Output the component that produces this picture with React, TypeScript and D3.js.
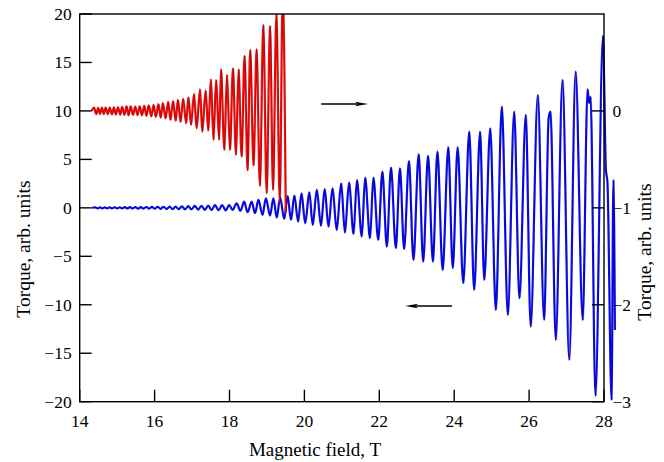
import React from "react";
import * as d3 from "d3";

// ---- Data ----
// Blue curve: torque (left axis, arb. units) vs magnetic field (T), extrema
const blueField = [
  14.33, 14.41, 14.48, 14.54, 14.60, 14.67, 14.73, 14.80, 14.86, 14.93, 15.00, 15.07, 15.13, 15.20, 15.27, 15.34,
  15.41, 15.48, 15.56, 15.63, 15.70, 15.78, 15.85, 15.93, 16.00, 16.08, 16.16, 16.24, 16.32, 16.40, 16.48, 16.56,
  16.64, 16.73, 16.81, 16.90, 16.98, 17.07, 17.16, 17.25, 17.34, 17.43, 17.52, 17.61, 17.71, 17.80, 17.90,
  17.99, 18.08, 18.19, 18.29, 18.39, 18.48, 18.59, 18.68, 18.77, 18.88, 18.97, 19.08, 19.17, 19.26, 19.35, 19.46,
  19.55, 19.64, 19.73, 19.83, 19.92, 20.02, 20.13, 20.22, 20.33, 20.44, 20.54, 20.64, 20.75, 20.86,
  20.98, 21.08, 21.19, 21.31, 21.40, 21.53, 21.62, 21.75, 21.84, 21.97, 22.08, 22.20, 22.31, 22.44, 22.55, 22.66,
  22.79, 22.91, 23.05, 23.17, 23.30, 23.43,
  23.55, 23.69, 23.84, 23.96, 24.09, 24.24, 24.40, 24.53, 24.69, 24.80, 24.96, 25.11, 25.27, 25.43, 25.60, 25.74,
  25.91, 26.04, 26.23, 26.40, 26.52, 26.57, 26.71, 26.89, 27.07, 27.24, 27.43, 27.56, 27.60, 27.64, 27.77, 27.97,
  28.05, 28.09, 28.20, 28.25, 28.29,
];
const blueTorque = [
  0, 0.05, -0.05, 0.05, -0.05, 0.05, -0.05, 0.05, -0.05, 0.06, -0.06, 0.06, -0.06, 0.07, -0.07, 0.07,
  -0.07, 0.08, -0.08, 0.08, -0.08, 0.09, -0.09, 0.10, -0.10, 0.11, -0.11, 0.12, -0.12, 0.13, -0.13, 0.14,
  -0.14, 0.16, -0.16, 0.18, -0.17, 0.20, -0.19, 0.22, -0.21, 0.25, -0.23, 0.28, -0.25, 0.30, -0.27,
  0.30, -0.22, 0.47, -0.32, 0.64, -0.45, 0.64, -0.56, 0.82, -0.73, 0.99, -0.80, 0.99, -1.01, 1.05, -1.15,
  1.23, -1.25, 1.26, -1.42, 1.51, -1.59, 1.61, -1.76, 1.85, -1.84, 1.95, -1.94, 2.02, -2.28,
  2.54, -2.56, 2.60, -2.69, 2.88, -2.97, 3.12, -3.14, 3.12, -3.31, 3.74, -4.00, 4.15, -4.17, 4.09, -4.27,
  4.84, -5.38, 5.53, -5.55, 5.36, -5.55,
  5.80, -6.41, 6.25, -6.23, 6.25, -7.78, 7.86, -8.47, 7.86, -7.44, 8.21, -10.54, 10.44, -11.05, 9.93, -9.33,
  9.59, -12.26, 11.65, -11.57, 9.25, 9.93, -13.63, 13.20, -15.69, 14.06, -11.57, 12.22, 10.83, 11.45, -19.41, 17.74,
  3.91, 2.67, -19.82, 2.88, -12.6,
];

// Red curve: torque (right axis, arb. units) vs magnetic field (T), extrema
const redField = [
  14.32, 14.38, 14.44, 14.49, 14.54, 14.59, 14.64, 14.69, 14.75, 14.80, 14.86, 14.91, 14.96, 15.02, 15.08, 15.13,
  15.19, 15.25, 15.30, 15.36, 15.42, 15.48, 15.54, 15.60, 15.66, 15.72, 15.78, 15.84, 15.91, 15.97, 16.03, 16.10,
  16.16, 16.22, 16.29, 16.36, 16.42, 16.49, 16.56, 16.62, 16.69, 16.76, 16.84, 16.90, 16.97, 17.05, 17.12, 17.21,
  17.27, 17.36, 17.43, 17.50, 17.57, 17.64, 17.72, 17.77, 17.86, 17.93, 18.01, 18.09, 18.17, 18.24, 18.32, 18.40,
  18.48, 18.55, 18.64, 18.72, 18.81, 18.90, 18.99, 19.08, 19.16, 19.25, 19.34, 19.42, 19.50,
];
const redTorque = [
  0.0, 0.034, -0.034, 0.032, -0.032, 0.034, -0.034, 0.034, -0.034, 0.036, -0.036, 0.038, -0.038, 0.038, -0.038, 0.042,
  -0.042, 0.047, -0.047, 0.047, -0.042, 0.044, -0.044, 0.047, -0.047, 0.052, -0.052, 0.057, -0.057, 0.062, -0.062, 0.070,
  -0.070, 0.080, -0.077, 0.093, -0.093, 0.103, -0.103, 0.116, -0.114, 0.124, -0.127, 0.141, -0.144, 0.175, -0.179, 0.224,
  -0.214, 0.209, -0.203, 0.327, -0.299, 0.320, -0.299, 0.430, -0.402, 0.372, -0.402, 0.441, -0.454, 0.430, -0.472, 0.568,
  -0.614, 0.630, -0.562, 0.637, -0.774, 0.888, -0.849, 0.877, -0.815, 1.001, -0.936, 1.25, -1.042,
];

const xTicks = [14, 16, 18, 20, 22, 24, 26, 28];
const leftTicks = [-20, -15, -10, -5, 0, 5, 10, 15, 20];
const rightTicks = [0, -1, -2, -3];

// Annotation arrows, in data units (field, left torque)
const arrowRight = { from: 20.45, to: 21.7, level: 10.72 };
const arrowLeft = { from: 23.94, to: 22.69, level: -10.12 };

const W = 664;
const H = 462;
const box = { left: 79.7, right: 604, top: 14, bottom: 401.7 };
const FONT = "'Liberation Serif', 'Times New Roman', serif";

const fmt = (v: number) => (v < 0 ? "\u2212" + Math.abs(v) : String(v));

export default function App() {
  const x = d3.scaleLinear().domain([14, 28]).range([box.left, box.right]);
  const yL = d3.scaleLinear().domain([-20, 20]).range([box.bottom, box.top]);
  const yR = d3.scaleLinear().domain([-3, 1]).range([box.bottom, box.top]);

  const blueLine = d3
    .line<number>()
    .x((_, i) => x(blueField[i]))
    .y((d) => yL(d))
    .curve(d3.curveMonotoneX);
  const redLine = d3
    .line<number>()
    .x((_, i) => x(redField[i]))
    .y((d) => yR(d))
    .curve(d3.curveMonotoneX);

  const bluePath = blueLine(blueTorque) || "";
  const redPath = redLine(redTorque) || "";

  const arrow = (a: { from: number; to: number; level: number }) => {
    const x0 = x(a.from);
    const x1 = x(a.to);
    const y = yL(a.level);
    const dir = Math.sign(x1 - x0);
    const len = 13;
    const back = x1 - dir * len;
    const notch = x1 - dir * (len - 3);
    return (
      <g>
        <line x1={x0} y1={y} x2={notch} y2={y} stroke="#000" strokeWidth={1.5} />
        <path
          d={`M${x1},${y} L${back},${y - 2.2} L${notch},${y} L${back},${y + 2.2} Z`}
          fill="#000"
        />
      </g>
    );
  };

  return (
    <svg
      width={W}
      height={H}
      style={{ position: "absolute", left: 0, top: 0, background: "#fff" }}
      fontFamily={FONT}
    >
      <defs>
        <clipPath id="clipTop">
          <rect x={0} y={box.top} width={W} height={H - box.top} />
        </clipPath>
      </defs>
      <rect x={0} y={0} width={W} height={H} fill="#fff" />

      {/* blue curve */}
      <path d={bluePath} fill="none" stroke="#0a0aff" strokeWidth={2.1} strokeLinejoin="round" />
      <path
        d={bluePath}
        fill="none"
        stroke="#000028"
        strokeWidth={0.6}
        opacity={0.55}
        transform="translate(0.7,0)"
      />

      {/* red curve */}
      <g clipPath="url(#clipTop)">
        <path d={redPath} fill="none" stroke="#ff0a0a" strokeWidth={2.1} strokeLinejoin="round" />
        <path
          d={redPath}
          fill="none"
          stroke="#280000"
          strokeWidth={0.6}
          opacity={0.55}
          transform="translate(0.7,0)"
        />
      </g>

      {/* frame */}
      <rect
        x={box.left}
        y={box.top}
        width={box.right - box.left}
        height={box.bottom - box.top}
        fill="none"
        stroke="#000"
        strokeWidth={1.4}
      />

      {/* left axis ticks */}
      {leftTicks.map((t) => (
        <g key={"l" + t}>
          <line x1={box.left} x2={box.left + 12} y1={yL(t)} y2={yL(t)} stroke="#000" strokeWidth={1.4} />
          <text x={box.left - 8} y={yL(t)} dy="0.34em" textAnchor="end" fontSize={17.5}>
            {fmt(t)}
          </text>
        </g>
      ))}

      {/* bottom axis ticks */}
      {xTicks.map((t) => (
        <g key={"b" + t}>
          <line x1={x(t)} x2={x(t)} y1={box.bottom} y2={box.bottom - 12} stroke="#000" strokeWidth={1.4} />
          <text x={x(t)} y={427} textAnchor="middle" fontSize={17.5}>
            {fmt(t)}
          </text>
        </g>
      ))}

      {/* right axis ticks */}
      {rightTicks.map((t) => (
        <g key={"r" + t}>
          <line x1={box.right - 12} x2={box.right} y1={yR(t)} y2={yR(t)} stroke="#000" strokeWidth={1.4} />
          <text x={box.right + 8.5} y={yR(t)} dy="0.34em" textAnchor="start" fontSize={17.5}>
            {fmt(t)}
          </text>
        </g>
      ))}

      {/* arrows */}
      {arrow(arrowRight)}
      {arrow(arrowLeft)}

      {/* axis titles */}
      <text x={315} y={456} textAnchor="middle" fontSize={19}>
        Magnetic field, T
      </text>
      <text
        transform={`translate(30,249) rotate(-90)`}
        textAnchor="middle"
        fontSize={19.5}
      >
        Torque, arb. units
      </text>
      <text
        transform={`translate(651,252) rotate(-90)`}
        textAnchor="middle"
        fontSize={19.5}
      >
        Torque, arb. units
      </text>
    </svg>
  );
}
